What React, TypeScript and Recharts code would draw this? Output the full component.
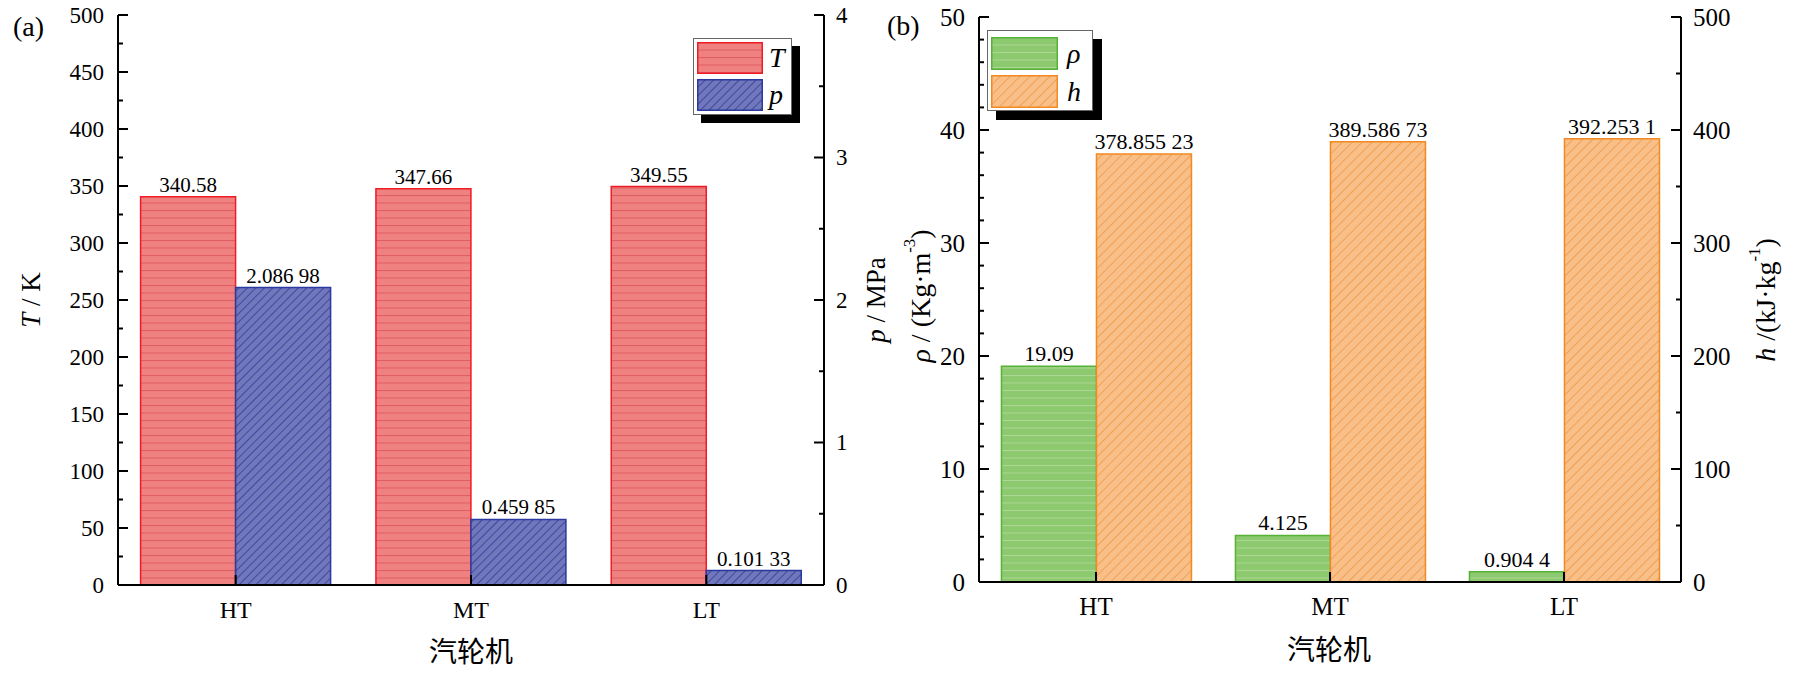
import { Bar, BarChart, LabelList, Legend, XAxis, YAxis } from "recharts";

const turbines = ["HT", "MT", "LT"];
const temperature = [340.58, 347.66, 349.55];
const pressure = [2.08698, 0.45985, 0.10133];
const density = [19.09, 4.125, 0.9044];
const enthalpy = [378.85523, 389.58673, 392.2531];

const tempTicks = [0, 25, 50, 75, 100, 125, 150, 175, 200, 225, 250, 275, 300, 325, 350, 375, 400, 425, 450, 475, 500];
const pressureTicks = [0, 0.5, 1, 1.5, 2, 2.5, 3, 3.5, 4];
const densityTicks = [0, 2, 4, 6, 8, 10, 12, 14, 16, 18, 20, 22, 24, 26, 28, 30, 32, 34, 36, 38, 40, 42, 44, 46, 48, 50];
const enthalpyTicks = [0, 50, 100, 150, 200, 250, 300, 350, 400, 450, 500];

const SERIF = '"Liberation Serif", "Times New Roman", "Noto Sans CJK SC", serif';

const panelA = turbines.map((name, i) => ({ name, T: temperature[i], p: pressure[i] }));
const panelB = turbines.map((name, i) => ({ name, rho: density[i], h: enthalpy[i] }));

// "2.08698" -> "2.086 98"
const groupDecimals = (v: number) => {
  const [int, dec] = String(v).split(".");
  if (!dec || dec.length <= 3) return String(v);
  return int + "." + (dec.match(/.{1,3}/g) || []).join(" ");
};

const seriesStyle: Record<string, { fill: string; stroke: string }> = {
  T: { fill: "url(#stripeRed)", stroke: "#EE1C24" },
  p: { fill: "url(#hatchBlue)", stroke: "#2B3A9E" },
  rho: { fill: "url(#stripeGreen)", stroke: "#56B236" },
  h: { fill: "url(#hatchOrange)", stroke: "#F28A22" },
};

function YTick(props: any) {
  const { x, y, payload, side, major, fontSize } = props;
  const v = payload.value;
  const isMajor = Math.abs(v / major - Math.round(v / major)) < 1e-6;
  const dir = side === "left" ? 1 : -1;
  const gap = side === "left" ? 14 : 12;
  return (
    <g>
      <line x1={x} y1={y} x2={x + dir * (isMajor ? 10 : 5)} y2={y} stroke="#000" strokeWidth={2} />
      {isMajor && (
        <text
          x={x - dir * gap}
          y={y}
          textAnchor={side === "left" ? "end" : "start"}
          dominantBaseline="central"
          fontSize={fontSize}
          fontFamily={SERIF}
          fill="#000"
        >
          {v}
        </text>
      )}
    </g>
  );
}

function XTick(props: any) {
  const { x, y, payload, fontSize } = props;
  return (
    <g>
      <line x1={x} y1={y} x2={x} y2={y - 10} stroke="#000" strokeWidth={2} />
      <text x={x} y={y + 33} textAnchor="middle" fontSize={fontSize} fontFamily={SERIF} fill="#000">
        {payload.value}
      </text>
    </g>
  );
}

type Part = { text: string; italic?: boolean; sup?: boolean };

function Title({ cx, cy, parts, fontSize, rotate }: { cx: number; cy: number; parts: Part[]; fontSize: number; rotate?: boolean }) {
  return (
    <text
      x={cx}
      y={cy}
      transform={rotate ? `rotate(-90 ${cx} ${cy})` : undefined}
      textAnchor="middle"
      dominantBaseline="central"
      fontSize={fontSize}
      fontFamily={SERIF}
      fill="#000"
    >
      {parts.map((p, i) =>
        p.sup ? (
          <tspan key={i} fontSize={fontSize * 0.6} dy={-fontSize * 0.4}>
            {p.text}
          </tspan>
        ) : (
          <tspan key={i} fontStyle={p.italic ? "italic" : "normal"} dy={i > 0 && parts[i - 1].sup ? fontSize * 0.4 : 0}>
            {p.text}
          </tspan>
        )
      )}
    </text>
  );
}

function LegendBox({ payload, order, w, h, shadow, rowTop, rowStep, swW, swH, labelLeft }: any) {
  const entries = order
    .map((key: string) => (payload || []).find((e: any) => e.dataKey === key))
    .filter(Boolean);
  return (
    <div style={{ position: "relative", width: w, height: h }}>
      <div style={{ position: "absolute", left: shadow, top: shadow, width: w, height: h, background: "#000" }} />
      <div
        style={{
          position: "absolute",
          left: 0,
          top: 0,
          width: w - 2,
          height: h - 2,
          background: "#fff",
          border: "1px solid #666",
        }}
      >
        {entries.map((entry: any, i: number) => {
          const st = seriesStyle[entry.dataKey];
          return (
            <div key={entry.dataKey} style={{ position: "absolute", left: 3, top: rowTop + i * rowStep, height: swH }}>
              <svg width={swW} height={swH} style={{ display: "block" }}>
                <rect x={0.75} y={0.75} width={swW - 1.5} height={swH - 1.5} fill={st.fill} stroke={st.stroke} strokeWidth={1.5} />
              </svg>
              <span
                style={{
                  position: "absolute",
                  left: labelLeft,
                  top: 0,
                  lineHeight: swH + "px",
                  fontSize: 28,
                  fontStyle: "italic",
                  fontFamily: SERIF,
                  whiteSpace: "nowrap",
                }}
              >
                {entry.value}
              </span>
            </div>
          );
        })}
      </div>
    </div>
  );
}

function Patterns() {
  return (
    <defs>
      <pattern id="stripeRed" patternUnits="userSpaceOnUse" width={8} height={7.5}>
        <rect width={8} height={7.5} fill="#EF8181" />
        <line x1={0} y1={0.5} x2={8} y2={0.5} stroke="#DF5C62" strokeWidth={1} />
      </pattern>
      <pattern id="hatchBlue" patternUnits="userSpaceOnUse" width={6} height={6} patternTransform="rotate(45)">
        <rect width={6} height={6} fill="#7177BB" />
        <line x1={0.5} y1={0} x2={0.5} y2={6} stroke="#3F489F" strokeWidth={1} />
      </pattern>
      <pattern id="stripeGreen" patternUnits="userSpaceOnUse" width={8} height={7.5}>
        <rect width={8} height={7.5} fill="#8DC96F" />
        <line x1={0} y1={0.5} x2={8} y2={0.5} stroke="#ADD994" strokeWidth={1} />
      </pattern>
      <pattern id="hatchOrange" patternUnits="userSpaceOnUse" width={7} height={7} patternTransform="rotate(45)">
        <rect width={7} height={7} fill="#F9BF88" />
        <line x1={0.5} y1={0} x2={0.5} y2={7} stroke="#F1A055" strokeWidth={1} />
      </pattern>
    </defs>
  );
}

export default function App() {
  return (
    <div style={{ position: "absolute", left: 0, top: 0, width: 1793, height: 674, background: "#fff", fontFamily: SERIF }}>
      {/* panel (a) */}
      <div style={{ position: "absolute", left: 0, top: 0 }}>
        <BarChart width={900} height={674} data={panelA} margin={{ top: 15, right: 0, bottom: 0, left: 0 }} barGap={0} barCategoryGap="9.6%">
          <Patterns />
          <XAxis dataKey="name" height={89} axisLine={{ stroke: "#000", strokeWidth: 2 }} tickLine={false} tickSize={0} tickMargin={0} tick={<XTick fontSize={24} />} />
          <XAxis xAxisId="top" dataKey="name" orientation="top" height={0} tick={false} tickLine={false} axisLine={{ stroke: "#000", strokeWidth: 2 }} />
          <YAxis yAxisId="left" width={118} domain={[0, 500]} ticks={tempTicks} interval={0} axisLine={{ stroke: "#000", strokeWidth: 2 }} tickLine={false} tickSize={0} tickMargin={0} tick={<YTick side="left" major={50} fontSize={23} />} />
          <YAxis yAxisId="right" orientation="right" width={76} domain={[0, 4]} ticks={pressureTicks} interval={0} axisLine={{ stroke: "#000", strokeWidth: 2 }} tickLine={false} tickSize={0} tickMargin={0} tick={<YTick side="right" major={1} fontSize={23} />} />
          <Legend
            verticalAlign="middle"
            align="center"
            layout="horizontal"
            wrapperStyle={{ left: 693, top: 38, width: "auto", height: "auto" }}
            content={(p: any) => (
              <LegendBox payload={p.payload} order={["T", "p"]} w={99} h={77} shadow={8} rowTop={3} rowStep={37} swW={66} swH={32} labelLeft={72} />
            )}
          />
          <Bar yAxisId="left" dataKey="T" name="T" fill={seriesStyle.T.fill} stroke={seriesStyle.T.stroke} strokeWidth={1.5} isAnimationActive={false}>
            <LabelList dataKey="T" position="top" formatter={(v: any) => groupDecimals(Number(v))} fill="#000" fontSize={21} fontFamily={SERIF} />
          </Bar>
          <Bar yAxisId="right" dataKey="p" name="p" fill={seriesStyle.p.fill} stroke={seriesStyle.p.stroke} strokeWidth={1.5} isAnimationActive={false}>
            <LabelList dataKey="p" position="top" formatter={(v: any) => groupDecimals(Number(v))} fill="#000" fontSize={21} fontFamily={SERIF} />
          </Bar>
          <Title cx={31} cy={300} rotate fontSize={27} parts={[{ text: "T", italic: true }, { text: " / K" }]} />
          <Title cx={876} cy={300} rotate fontSize={27} parts={[{ text: "p", italic: true }, { text: " / MPa" }]} />
          <Title cx={471} cy={652} fontSize={28} parts={[{ text: "汽轮机" }]} />
        </BarChart>
      </div>

      {/* panel (b) */}
      <div style={{ position: "absolute", left: 880, top: 0 }}>
        <BarChart width={913} height={674} data={panelB} margin={{ top: 17, right: 0, bottom: 0, left: 0 }} barGap={0} barCategoryGap="9.6%">
          <Patterns />
          <XAxis dataKey="name" height={92} axisLine={{ stroke: "#000", strokeWidth: 2 }} tickLine={false} tickSize={0} tickMargin={0} tick={<XTick fontSize={25} />} />
          <XAxis xAxisId="top" dataKey="name" orientation="top" height={0} tick={false} tickLine={false} axisLine={{ stroke: "#000", strokeWidth: 2 }} />
          <YAxis yAxisId="left" width={99} domain={[0, 50]} ticks={densityTicks} interval={0} axisLine={{ stroke: "#000", strokeWidth: 2 }} tickLine={false} tickSize={0} tickMargin={0} tick={<YTick side="left" major={10} fontSize={25} />} />
          <YAxis yAxisId="right" orientation="right" width={112} domain={[0, 500]} ticks={enthalpyTicks} interval={0} axisLine={{ stroke: "#000", strokeWidth: 2 }} tickLine={false} tickSize={0} tickMargin={0} tick={<YTick side="right" major={100} fontSize={25} />} />
          <Legend
            verticalAlign="middle"
            align="center"
            layout="horizontal"
            wrapperStyle={{ left: 107, top: 30, width: "auto", height: "auto" }}
            content={(p: any) => (
              <LegendBox payload={p.payload} order={["rho", "h"]} w={106} h={81} shadow={9} rowTop={6} rowStep={38} swW={67} swH={33} labelLeft={76} />
            )}
          />
          <Bar yAxisId="left" dataKey="rho" name="ρ" fill={seriesStyle.rho.fill} stroke={seriesStyle.rho.stroke} strokeWidth={1.5} isAnimationActive={false}>
            <LabelList dataKey="rho" position="top" formatter={(v: any) => groupDecimals(Number(v))} fill="#000" fontSize={22} fontFamily={SERIF} />
          </Bar>
          <Bar yAxisId="right" dataKey="h" name="h" fill={seriesStyle.h.fill} stroke={seriesStyle.h.stroke} strokeWidth={1.5} isAnimationActive={false}>
            <LabelList dataKey="h" position="top" formatter={(v: any) => groupDecimals(Number(v))} fill="#000" fontSize={22} fontFamily={SERIF} />
          </Bar>
          <Title
            cx={40}
            cy={296}
            rotate
            fontSize={28}
            parts={[{ text: "ρ", italic: true }, { text: " / (Kg·m" }, { text: "-3", sup: true }, { text: ")" }]}
          />
          <Title
            cx={885}
            cy={300}
            rotate
            fontSize={28}
            parts={[{ text: "h", italic: true }, { text: " /(kJ·kg" }, { text: "-1", sup: true }, { text: ")" }]}
          />
          <Title cx={449} cy={650} fontSize={28} parts={[{ text: "汽轮机" }]} />
        </BarChart>
      </div>

      <div style={{ position: "absolute", left: 13, top: 13, fontSize: 28, lineHeight: "28px", fontFamily: SERIF }}>(a)</div>
      <div style={{ position: "absolute", left: 887, top: 12, fontSize: 28, lineHeight: "28px", fontFamily: SERIF }}>(b)</div>
    </div>
  );
}
